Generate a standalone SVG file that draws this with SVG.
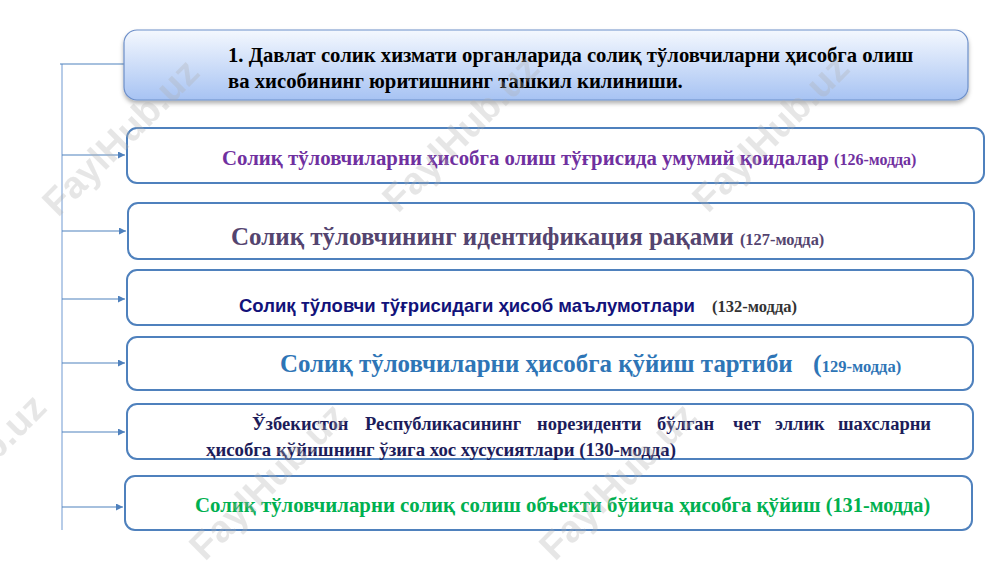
<svg xmlns="http://www.w3.org/2000/svg" width="1000" height="562" viewBox="0 0 1000 562">
<defs>
<linearGradient id="tg" x1="0" y1="0" x2="0" y2="1">
<stop offset="0" stop-color="#f4f8fe"/>
<stop offset="1" stop-color="#a7c3f3"/>
</linearGradient>
<filter id="sh" x="-5%" y="-20%" width="110%" height="150%">
<feDropShadow dx="0" dy="3" stdDeviation="2" flood-color="#000" flood-opacity="0.3"/>
</filter>
<marker id="ar" viewBox="0 0 10 10" refX="10" refY="5" markerWidth="7" markerHeight="7" markerUnits="userSpaceOnUse" orient="auto">
<path d="M0,0 L10,5 L0,10 z" fill="#4f81bd"/>
</marker>
<style>
.box{fill:#ffffff;stroke:#4f81bd;stroke-width:2}
.t{font-family:"Liberation Serif","Times New Roman",serif;font-weight:bold}
.s{font-family:"Liberation Sans",Arial,sans-serif;font-weight:bold}
.c{stroke:#4f81bd;stroke-width:1.2;fill:none}
.v{stroke:#9fbbe0;stroke-width:1.5;fill:none}
.wm{font-family:"Liberation Sans",Arial,sans-serif;font-weight:bold;font-size:38px;fill:#b0b0b0;opacity:0.3}
</style>
</defs>
<rect width="1000" height="562" fill="#ffffff"/>

<g id="connectors">
<path class="v" d="M62,64 V530"/>
<path class="c" d="M60,64 H124"/>
<path class="c" d="M62,155 H125" marker-end="url(#ar)"/>
<path class="c" d="M62,231 H126" marker-end="url(#ar)"/>
<path class="c" d="M62,299 H125" marker-end="url(#ar)"/>
<path class="c" d="M62,363 H125" marker-end="url(#ar)"/>
<path class="c" d="M62,432 H125" marker-end="url(#ar)"/>
<path class="c" d="M62,507 H123" marker-end="url(#ar)"/>
</g>

<g id="title">
<rect x="124" y="30" width="844" height="70" rx="13" fill="url(#tg)" stroke="#6d8fc9" stroke-width="1.2" filter="url(#sh)"/>
<text class="t" x="228" y="62" font-size="20.7" fill="#000">1. Давлат солик хизмати органларида солиқ тўловчиларни ҳисобга олиш</text>
<text class="t" x="228" y="88" font-size="20.7" fill="#000">ва хисобининг юритишнинг ташкил килиниши.</text>
</g>

<g id="n126">
<rect class="box" x="127" y="128" width="857" height="55" rx="10"/>
<text class="t" x="222" y="165" font-size="20.8" fill="#7030a0">Солиқ тўловчиларни ҳисобга олиш тўғрисида умумий қоидалар <tspan font-size="16">(126-модда)</tspan></text>
</g>

<g id="n127">
<rect class="box" x="128" y="203" width="846" height="56" rx="10"/>
<text class="t" x="231" y="245" font-size="25" fill="#54446f">Солиқ тўловчининг идентификация рақами <tspan font-size="16.4">(127-модда)</tspan></text>
</g>

<g id="n132">
<rect class="box" x="127" y="270" width="846" height="55" rx="10"/>
<text class="s" x="239" y="312" font-size="18.5" fill="#12127a">Солиқ тўловчи тўғрисидаги ҳисоб маълумотлари</text>
<text class="t" x="712" y="312" font-size="16.5" fill="#333333">(132-модда)</text>
</g>

<g id="n129">
<rect class="box" x="127" y="337" width="846" height="53" rx="10"/>
<text class="t" x="280" y="372" font-size="24.9" fill="#2e75b6">Солиқ тўловчиларни ҳисобга қўйиш тартиби<tspan x="813" font-size="26">(</tspan><tspan font-size="16.5">129-модда)</tspan></text>
</g>

<g id="n130">
<rect class="box" x="127" y="404" width="846" height="55" rx="10"/>
<text class="t" y="430" font-size="18.5" fill="#1c1c5a"><tspan x="252">Ўзбекистон</tspan><tspan x="365">Республикасининг</tspan><tspan x="537">норезиденти</tspan><tspan x="657">бўлган</tspan><tspan x="733">чет</tspan><tspan x="775">эллик</tspan><tspan x="838">шахсларни</tspan></text>
<text class="t" x="206" y="456" font-size="18.8" fill="#1c1c5a">ҳисобга қўйишнинг ўзига хос хусусиятлари (130-модда)</text>
</g>

<g id="n131">
<rect class="box" x="125" y="476" width="847" height="54" rx="10"/>
<text class="t" x="195" y="512" font-size="20.8" fill="#00b050">Солиқ тўловчиларни солиқ солиш объекти бўйича ҳисобга қўйиш <tspan font-size="20.3">(131-модда)</tspan></text>
</g>

<g id="watermarks">
<text class="wm" transform="translate(58,218) rotate(-45)">FaylHub.uz</text>
<text class="wm" transform="translate(398,214) rotate(-45)">FaylHub.uz</text>
<text class="wm" transform="translate(708,214) rotate(-45)">FaylHub.uz</text>
<text class="wm" transform="translate(-95,553) rotate(-45)">FaylHub.uz</text>
<text class="wm" transform="translate(205,562) rotate(-45)">FaylHub.uz</text>
<text class="wm" transform="translate(555,562) rotate(-45)">FaylHub.uz</text>
</g>
</svg>
